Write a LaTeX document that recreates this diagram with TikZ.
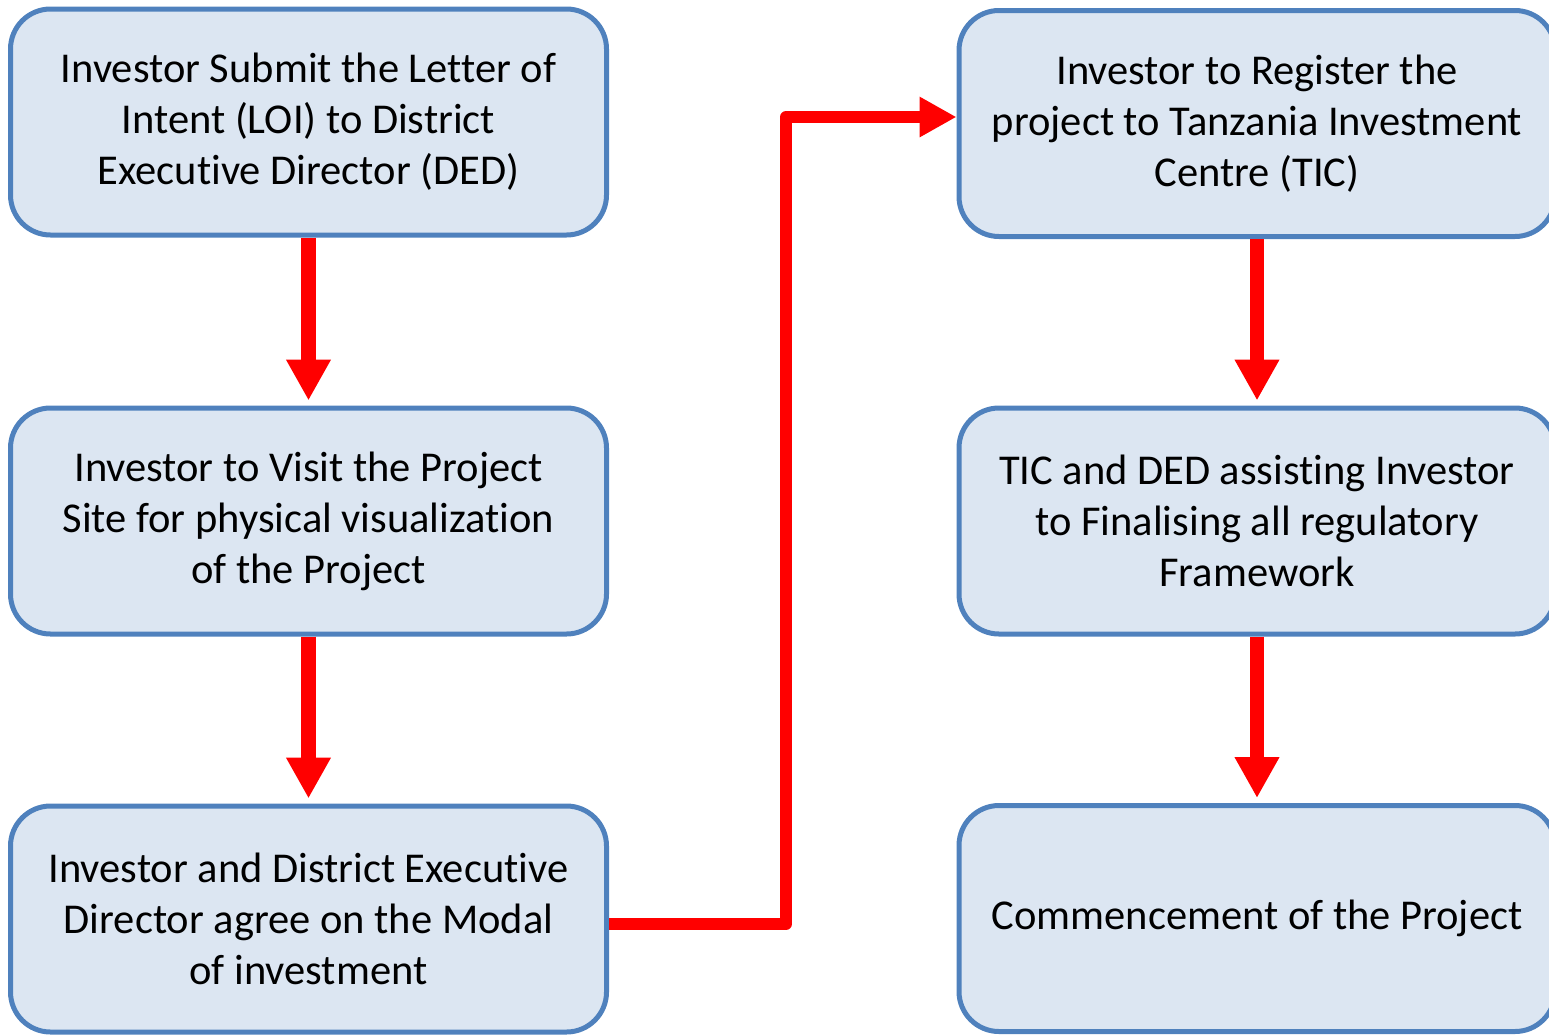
\documentclass[tikz,border=0pt]{standalone}
\usepackage{fontspec}
\setmainfont[Ligatures=NoCommon]{Carlito}
\usetikzlibrary{arrows.meta}
\definecolor{boxblue}{RGB}{79,129,189}
\definecolor{boxfill}{RGB}{220,230,242}
\definecolor{flowred}{RGB}{255,0,0}
\begin{document}
\begin{tikzpicture}[x=1pt,y=-1pt,
  box/.style={draw=boxblue, fill=boxfill, line width=5pt, rounded corners=40pt,
    minimum width=596pt, minimum height=226pt, align=center, inner sep=0pt,
    font=\fontsize{42.5}{51}\selectfont},
  flow/.style={draw=flowred, line width=14.5pt, shorten >=5pt,
    -{Triangle[width=42pt,length=41pt]}},
  elbow/.style={draw=flowred, line width=12pt, line join=round,
    -{Triangle[width=38pt,length=37pt]}}]
\useasboundingbox (0,0) rectangle (1549,1034);
\node[box] (b1) at (308.5,122) {Investor Submit the Letter of\\Intent (LOI) to District\\Executive Director (DED)};
\node[box] (b2) at (308.5,521) {Investor to Visit the Project\\Site for physical visualization\\of the Project};
\node[box] (b3) at (308.5,919) {Investor and District Executive\\Director agree on the Modal\\of investment};
\node[box] (b4) at (1257,123.5) {Investor to Register the\\project to Tanzania Investment\\Centre (TIC)};
\node[box] (b5) at (1257,521) {TIC and DED assisting Investor\\to Finalising all regulatory\\Framework};
\node[box] (b6) at (1257,918.5) {Commencement of the Project};
\draw[flow] (b1) -- (b2);
\draw[flow] (b2) -- (b3);
\draw[flow] (b4) -- (b5);
\draw[flow] (b5) -- (b6);
\draw[elbow] ([yshift=-5pt]b3.east) -- ++(177,0) |- ([yshift=6.5pt]b4.west);
\end{tikzpicture}
\end{document}
